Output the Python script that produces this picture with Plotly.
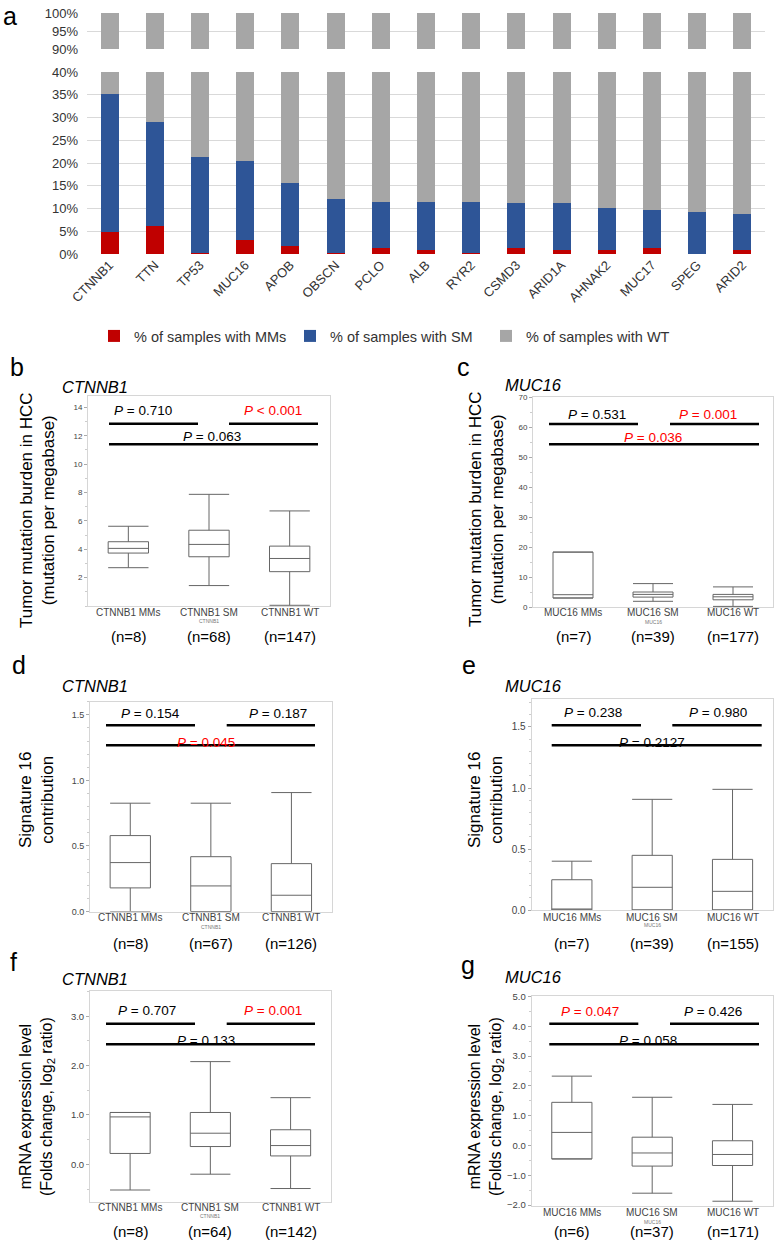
import plotly.graph_objects as go

W, H = 774, 1240
FONT = "Liberation Sans, Arial, Helvetica, sans-serif"


def px(x):
    return x / W


def py(y):
    return 1 - y / H


# ---------------- Panel a data ----------------
genes = ["CTNNB1", "TTN", "TP53", "MUC16", "APOB", "OBSCN", "PCLO", "ALB",
         "RYR2", "CSMD3", "ARID1A", "AHNAK2", "MUC17", "SPEG", "ARID2"]
mm_pct = [4.8, 6.2, 0.3, 3.0, 1.8, 0.3, 1.3, 0.9, 0.3, 1.3, 0.9, 0.9, 1.3, 0.0, 0.9]
sm_pct = [30.3, 22.8, 21.0, 17.4, 13.8, 11.7, 10.1, 10.5, 11.1, 9.8, 10.2, 9.2, 8.4, 9.2, 8.0]
wt_pct = [64.9, 71.0, 78.7, 79.6, 84.4, 88.0, 88.6, 88.6, 88.6, 88.9, 88.9, 89.9, 90.3, 90.8, 91.1]
series_names = ["% of samples with MMs", "% of samples with SM", "% of samples with WT"]
series_colors = ["#c00000", "#2e5597", "#a6a6a6"]
lower_ticks = [0, 5, 10, 15, 20, 25, 30, 35, 40]
upper_ticks = [90, 95, 100]

# ---------------- Box panels data ----------------
ctnnb1_groups = ["CTNNB1 MMs", "CTNNB1 SM", "CTNNB1 WT"]
muc16_groups = ["MUC16 MMs", "MUC16 SM", "MUC16 WT"]

# b: TMB, CTNNB1
b_lo = [2.70, 1.44, 0.05]
b_q1 = [3.73, 3.47, 2.42]
b_med = [4.06, 4.34, 3.35]
b_q3 = [4.53, 5.34, 4.22]
b_hi = [5.62, 7.87, 6.70]
b_n = [8, 68, 147]
b_p = ["= 0.710", "< 0.001", "= 0.063"]
b_sig = [False, True, False]

# c: TMB, MUC16
c_lo = [3.0, 1.9, 0.2]
c_q1 = [3.0, 3.3, 2.4]
c_med = [4.1, 4.2, 3.4]
c_q3 = [18.3, 5.0, 4.2]
c_hi = [18.3, 7.8, 6.7]
c_n = [7, 39, 177]
c_p = ["= 0.531", "= 0.001", "= 0.036"]
c_sig = [False, True, True]

# d: Signature 16, CTNNB1
d_lo = [0.0, 0.0, 0.0]
d_q1 = [0.18, 0.0, 0.0]
d_med = [0.373, 0.195, 0.124]
d_q3 = [0.579, 0.418, 0.365]
d_hi = [0.826, 0.826, 0.907]
d_n = [8, 67, 126]
d_p = ["= 0.154", "= 0.187", "= 0.045"]
d_sig = [False, False, True]

# e: Signature 16, MUC16
e_lo = [0.0, 0.0, 0.0]
e_q1 = [0.0, 0.0, 0.0]
e_med = [0.0, 0.186, 0.153]
e_q3 = [0.248, 0.448, 0.415]
e_hi = [0.40, 0.907, 0.989]
e_n = [7, 39, 155]
e_p = ["= 0.238", "= 0.980", "= 0.2127"]
e_sig = [False, False, False]

# f: mRNA, CTNNB1
f_lo = [-0.52, -0.20, -0.49]
f_q1 = [0.22, 0.36, 0.17]
f_med = [0.96, 0.63, 0.38]
f_q3 = [1.05, 1.05, 0.70]
f_hi = [1.05, 2.08, 1.35]
f_n = [8, 64, 142]
f_p = ["= 0.707", "= 0.001", "= 0.133"]
f_sig = [False, True, False]

# g: mRNA, MUC16
g_lo = [-0.45, -1.60, -1.87]
g_q1 = [-0.45, -0.69, -0.67]
g_med = [0.44, -0.25, -0.30]
g_q3 = [1.45, 0.28, 0.16]
g_hi = [2.33, 1.62, 1.38]
g_n = [6, 37, 171]
g_p = ["= 0.047", "= 0.426", "= 0.058"]
g_sig = [True, False, False]

fig = go.Figure()
annotations = []
shapes = []

# ---------------- Panel a ----------------
series_vals = [mm_pct, sm_pct, wt_pct]
for name, color, vals in zip(series_names, series_colors, series_vals):
    fig.add_trace(go.Bar(x=genes, y=vals, name=name, marker=dict(color=color, line=dict(width=0)),
                         xaxis="x", yaxis="y", showlegend=True, hoverinfo="skip"))
for name, color, vals in zip(series_names, series_colors, series_vals):
    fig.add_trace(go.Bar(x=genes, y=vals, name=name, marker=dict(color=color, line=dict(width=0)),
                         xaxis="x", yaxis="y2", showlegend=False, hoverinfo="skip"))

layout_axes = {}
layout_axes["xaxis"] = dict(domain=[px(87), px(765)], anchor="y", type="category",
                            tickangle=-45, tickfont=dict(size=13, color="#333", family=FONT),
                            showline=False, ticks="", showgrid=False, zeroline=False,
                            automargin=False)
layout_axes["yaxis"] = dict(domain=[py(254), py(72)], anchor="x", range=[0, 40],
                            tickvals=lower_ticks, ticktext=[f"{v}%" for v in lower_ticks],
                            showgrid=True, gridcolor="#d9d9d9", gridwidth=1, zeroline=False,
                            showline=False, ticks="", ticklabelstandoff=8, automargin=False,
                            tickfont=dict(size=13, color="#333", family=FONT))
layout_axes["yaxis2"] = dict(domain=[py(49), py(13)], anchor="x", range=[90, 100],
                             tickvals=upper_ticks, ticktext=[f"{v}%" for v in upper_ticks],
                             showgrid=True, gridcolor="#d9d9d9", gridwidth=1, zeroline=False,
                             showline=False, ticks="", ticklabelstandoff=8, automargin=False,
                             tickfont=dict(size=13, color="#333", family=FONT))

# ---------------- Box panels ----------------
panels = [
    dict(letter="b", letter_xy=(8, 383), groups=ctnnb1_groups, gene="CTNNB1",
         lo=b_lo, q1=b_q1, med=b_med, q3=b_q3, hi=b_hi, n=b_n, p=b_p, sig=b_sig,
         box=(88, 396, 330, 606), yrange=[0, 14.8], tickvals=[2, 4, 6, 8, 10, 12, 14],
         tickfmt="", minor=1, tsize=8,
         title_xy=(95, 387), ytitle="Tumor mutation burden in HCC<br>(mutation per megabase)",
         ytitle_xy=(37, 510), ytsize=17,
         lines=[(109, 198, 423.7), (229, 318, 423.7), (109, 318, 444.3)],
         ptext_xy=[(143, 410.7), (273, 410.7), (212, 436.7)],
         xlab_y=612, sub_y=621, n_y=636),
    dict(letter="c", letter_xy=(455, 383), groups=muc16_groups, gene="MUC16",
         lo=c_lo, q1=c_q1, med=c_med, q3=c_q3, hi=c_hi, n=c_n, p=c_p, sig=c_sig,
         box=(533, 397, 773, 607), yrange=[0, 70], tickvals=[0, 10, 20, 30, 40, 50, 60, 70],
         tickfmt="", minor=5, tsize=8,
         title_xy=(533, 385), ytitle="Tumor mutation burden in HCC<br>(mutation per megabase)",
         ytitle_xy=(487, 509), ytsize=17,
         lines=[(549, 638, 424), (670, 759, 424), (549, 759, 444.3)],
         ptext_xy=[(597, 414), (708, 414), (653, 437)],
         xlab_y=612, sub_y=622, n_y=636),
    dict(letter="d", letter_xy=(10, 681), groups=ctnnb1_groups, gene="CTNNB1",
         lo=d_lo, q1=d_q1, med=d_med, q3=d_q3, hi=d_hi, n=d_n, p=d_p, sig=d_sig,
         box=(90, 701.7, 331.7, 911.5), yrange=[0, 1.6], tickvals=[0, 0.5, 1.0, 1.5],
         tickfmt=".1f", minor=0.1, tsize=9,
         title_xy=(95, 686), ytitle="Signature 16<br>contribution",
         ytitle_xy=(36, 800), ytsize=17,
         lines=[(106, 195, 725.3), (226.7, 315, 725.3), (106, 315, 745.3)],
         ptext_xy=[(150, 713.3), (278, 713.3), (205.7, 742)],
         xlab_y=917, sub_y=927, n_y=943),
    dict(letter="e", letter_xy=(460, 681), groups=muc16_groups, gene="MUC16",
         lo=e_lo, q1=e_q1, med=e_med, q3=e_q3, hi=e_hi, n=e_n, p=e_p, sig=e_sig,
         box=(531.7, 699.3, 772.7, 910), yrange=[0, 1.727], tickvals=[0, 0.5, 1.0, 1.5],
         tickfmt=".1f", minor=0.1, tsize=10,
         title_xy=(533, 686), ytitle="Signature 16<br>contribution",
         ytitle_xy=(485, 800), ytsize=17,
         lines=[(551.7, 641, 725.3), (672.3, 761.7, 725.3), (551.7, 761.7, 745.3)],
         ptext_xy=[(593.3, 712.3), (718.3, 712.3), (651.7, 742)],
         xlab_y=917, sub_y=925, n_y=943),
    dict(letter="f", letter_xy=(8, 978), groups=ctnnb1_groups, gene="CTNNB1",
         lo=f_lo, q1=f_q1, med=f_med, q3=f_q3, hi=f_hi, n=f_n, p=f_p, sig=f_sig,
         box=(90, 991, 330.7, 1201.7), yrange=[-0.757, 3.51], tickvals=[0, 1, 2, 3],
         tickfmt=".1f", minor=0.5, tsize=9.5,
         title_xy=(95, 978.5), ytitle="mRNA expression level<br>(Folds change, log<sub>2</sub> ratio)",
         ytitle_xy=(37, 1107), ytsize=16,
         lines=[(106, 195, 1023.7), (226.7, 315, 1023.7), (106, 315, 1044.3)],
         ptext_xy=[(146.7, 1010), (272.7, 1010), (205.7, 1040.5)],
         xlab_y=1207, sub_y=1216, n_y=1231),
    dict(letter="g", letter_xy=(459, 981), groups=muc16_groups, gene="MUC16",
         lo=g_lo, q1=g_q1, med=g_med, q3=g_q3, hi=g_hi, n=g_n, p=g_p, sig=g_sig,
         box=(531.7, 996, 772.7, 1205.7), yrange=[-2.02, 5.02],
         tickvals=[-2, -1, 0, 1, 2, 3, 4, 5],
         tickfmt=".1f", minor=0.5, tsize=9.5,
         title_xy=(533, 977), ytitle="mRNA expression level<br>(Folds change, log<sub>2</sub> ratio)",
         ytitle_xy=(486, 1107), ytsize=16,
         lines=[(549.3, 638.3, 1023.7), (670, 759, 1023.7), (549.3, 759, 1044.3)],
         ptext_xy=[(590, 1011), (713.3, 1011), (648, 1040.5)],
         xlab_y=1212, sub_y=1221.5, n_y=1231),
]

for i, p in enumerate(panels):
    xi = i + 2
    yi = i + 3
    xa, ya = f"x{xi}", f"y{yi}"
    x0, y0, x1, y1 = p["box"]
    fig.add_trace(go.Box(
        x=p["groups"], q1=p["q1"], median=p["med"], q3=p["q3"],
        lowerfence=p["lo"], upperfence=p["hi"],
        xaxis=xa, yaxis=ya, width=0.5, whiskerwidth=1,
        line=dict(color="#666666", width=1), fillcolor="rgba(255,255,255,0)",
        boxpoints=False, showlegend=False, hoverinfo="skip"))
    layout_axes[f"xaxis{xi}"] = dict(
        domain=[px(x0), px(x1)], anchor=ya, type="category", range=[-0.5, 2.5],
        categoryorder="array", categoryarray=p["groups"],
        showline=True, mirror=True, linecolor="#d6d6d6", linewidth=1,
        ticks="", showticklabels=False, showgrid=False, zeroline=False, automargin=False)
    layout_axes[f"yaxis{yi}"] = dict(
        domain=[py(y1), py(y0)], anchor=xa, range=p["yrange"], tickvals=p["tickvals"],
        tickformat=p["tickfmt"], showline=True, mirror=True, linecolor="#d6d6d6", linewidth=1,
        ticks="outside", ticklen=3, tickcolor="#aaaaaa",
        minor=dict(ticks="outside", ticklen=2, dtick=p["minor"], tickcolor="#cccccc"),
        tickfont=dict(size=p["tsize"], color="#444", family=FONT),
        showgrid=False, zeroline=False, automargin=False)

    # panel letter
    lx, ly = p["letter_xy"]
    annotations.append(dict(text=p["letter"], x=px(lx), y=py(ly), xref="paper", yref="paper",
                            xanchor="left", yanchor="bottom", showarrow=False,
                            font=dict(size=25, color="black", family=FONT)))
    # gene title
    tx, ty = p["title_xy"]
    annotations.append(dict(text=f"<i>{p['gene']}</i>", x=px(tx), y=py(ty), xref="paper", yref="paper",
                            xanchor="center", yanchor="middle", showarrow=False,
                            font=dict(size=16.5, color="black", family=FONT)))
    # y title
    yx, yy = p["ytitle_xy"]
    annotations.append(dict(text=p["ytitle"], x=px(yx), y=py(yy), xref="paper", yref="paper",
                            xanchor="center", yanchor="middle", textangle=-90, showarrow=False,
                            font=dict(size=p["ytsize"], color="black", family=FONT)))
    # x category labels, small sub-label, and n counts
    for j, (grp, n) in enumerate(zip(p["groups"], p["n"])):
        annotations.append(dict(text=grp, x=grp, y=py(p["xlab_y"]), xref=xa, yref="paper",
                                xanchor="center", yanchor="middle", showarrow=False,
                                font=dict(size=10, color="#444", family=FONT)))
        annotations.append(dict(text=f"(n={n})", x=grp, y=py(p["n_y"]), xref=xa, yref="paper",
                                xanchor="center", yanchor="middle", showarrow=False,
                                font=dict(size=15, color="black", family=FONT)))
    annotations.append(dict(text=p["gene"], x=p["groups"][1], y=py(p["sub_y"]), xref=xa, yref="paper",
                            xanchor="center", yanchor="middle", showarrow=False,
                            font=dict(size=5, color="#777", family=FONT)))
    # significance brackets
    for (lx0, lx1, ly0) in p["lines"]:
        shapes.append(dict(type="line", xref="paper", yref="paper",
                           x0=px(lx0), x1=px(lx1), y0=py(ly0), y1=py(ly0),
                           line=dict(color="black", width=2.6)))
    for (ptx, pty), ptxt, sig in zip(p["ptext_xy"], p["p"], p["sig"]):
        annotations.append(dict(text=f"<i>P</i> {ptxt}", x=px(ptx), y=py(pty), xref="paper", yref="paper",
                                xanchor="center", yanchor="middle", showarrow=False,
                                font=dict(size=13.5, color="#ff0000" if sig else "black", family=FONT)))

# panel a letter (kept fully inside the page)
annotations.append(dict(text="a", x=px(1), y=1.0, xref="paper", yref="paper",
                        xanchor="left", yanchor="top", showarrow=False,
                        font=dict(size=25, color="black", family=FONT)))

fig.update_layout(
    width=W, height=H, autosize=False,
    margin=dict(l=0, r=0, t=0, b=0, pad=0, autoexpand=False),
    paper_bgcolor="white", plot_bgcolor="white",
    barmode="stack", bargap=0.6,
    font=dict(family=FONT, color="#333"),
    legend=dict(orientation="h", x=px(94), y=py(336), xanchor="left", yanchor="middle",
                font=dict(size=14.5, color="#333", family=FONT),
                entrywidth=151, entrywidthmode="pixels", itemwidth=30,
                bgcolor="rgba(0,0,0,0)", traceorder="normal"),
    annotations=annotations,
    shapes=shapes,
    **layout_axes,
)

fig.write_html("out.html", config={"displayModeBar": False},
               post_script="document.body.style.margin='0px';")
